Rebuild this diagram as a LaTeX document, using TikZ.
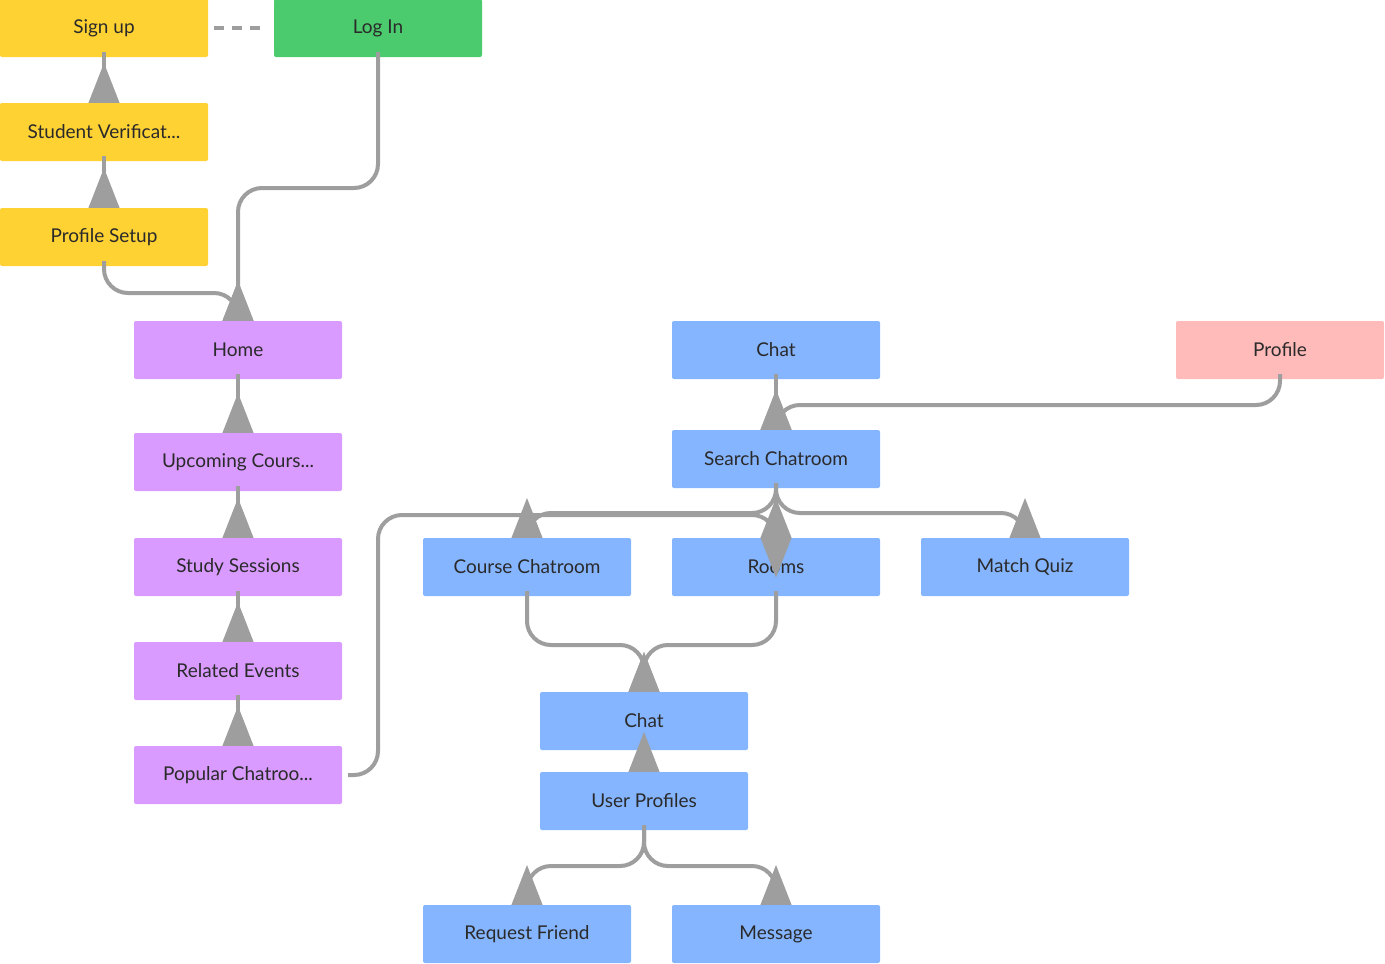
\documentclass[tikz,border=0pt]{standalone}
\usepackage{fontspec}
\setmainfont{Lato}
\usetikzlibrary{arrows.meta}
\usetikzlibrary{positioning}
\definecolor{cyellow}{HTML}{FFD233}
\definecolor{cgreen}{HTML}{4CCB6E}
\definecolor{cpurple}{HTML}{D99BFF}
\definecolor{cblue}{HTML}{85B5FF}
\definecolor{cpink}{HTML}{FFBABA}
\definecolor{cline}{HTML}{9E9E9E}
\definecolor{ctext}{HTML}{2A2A2A}
\begin{document}
\begin{tikzpicture}[x=1pt, y=-1pt, font=\fontsize{19}{22}\selectfont, text=ctext]
		\tikzstyle{block}=[rectangle, rounded corners=2pt, minimum width=208pt, minimum height=58pt, inner sep=0pt]
		\tikzstyle{link}=[draw=cline, line width=4pt, rounded corners=24pt, -{Triangle[width=30pt,length=40pt,reversed,fill=cline]}]
		\useasboundingbox (0,0) rectangle (1385,964);
		
		\node[block, fill=cyellow] (signup) at (104,28) {Sign up};
		\node[block, fill=cgreen] (login) at (378,28) {Log In};
		\node[block, fill=cyellow] (verify) at (104,132) {Student Verificat...};
		\node[block, fill=cyellow] (setup) at (104,237) {Profile Setup};
		
		\node[block, fill=cpurple] (home) at (238,350) {Home};
		\node[block, fill=cpurple] (upcoming) at (238,462) {Upcoming Cours...};
		\node[block, fill=cpurple] (sessions) at (238,567) {Study Sessions};
		\node[block, fill=cpurple] (events) at (238,671) {Related Events};
		\node[block, fill=cpurple] (popular) at (238,775) {Popular Chatroo...};
		
		\node[block, fill=cblue] (chattop) at (776,350) {Chat};
		\node[block, fill=cpink] (profile) at (1280,350) {Profile};
		\node[block, fill=cblue] (search) at (776,459) {Search Chatroom};
		\node[block, fill=cblue] (course) at (527,567) {Course Chatroom};
		\node[block, fill=cblue] (rooms) at (776,567) {Rooms};
		\node[block, fill=cblue] (quiz) at (1025,567) {Match Quiz};
		\node[block, fill=cblue] (chat) at (644,721) {Chat};
		\node[block, fill=cblue] (users) at (644,801) {User Profiles};
		\node[block, fill=cblue] (request) at (527,934) {Request Friend};
		\node[block, fill=cblue] (message) at (776,934) {Message};
		
		\draw[draw=cline, line width=4pt, dashed, dash pattern=on 10pt off 8pt] ([xshift=6pt]signup.east) -- ([xshift=-6pt]login.west);
		
		\path[link] ([yshift=5pt]signup.south) -- (verify.north);
		\path[link] ([yshift=5pt]verify.south) -- (setup.north);
		\path[link] ([yshift=5pt]setup.south) -- (104,293) -- (238,293) -- (home.north);
		\path[link] ([yshift=5pt]login.south) -- (378,188) -- (238,188) -- (home.north);
		
		\path[link] ([yshift=5pt]home.south) -- (upcoming.north);
		\path[link] ([yshift=5pt]upcoming.south) -- (sessions.north);
		\path[link] ([yshift=5pt]sessions.south) -- (events.north);
		\path[link] ([yshift=5pt]events.south) -- (popular.north);
		\path[link] ([xshift=6pt]popular.east) -- (378,775) -- (378,515) -- (776,515) -- (rooms.north);
		
		\path[link] ([yshift=5pt]chattop.south) -- (search.north);
		\path[link] ([yshift=5pt]profile.south) -- (1280,405) -- (776,405) -- (search.north);
		\path[link] ([yshift=5pt]search.south) -- (776,513) -- (527,513) -- (course.north);
		\path[link] ([yshift=5pt]search.south) -- (rooms.north);
		\path[link] ([yshift=5pt]search.south) -- (776,513) -- (1025,513) -- (quiz.north);
		
		\path[link] ([yshift=5pt]course.south) -- (527,645) -- (644,645) -- (chat.north);
		\path[link] ([yshift=5pt]rooms.south) -- (776,645) -- (644,645) -- (chat.north);
		\path[link] (chat.south) -- (users.north);
		\path[link] ([yshift=5pt]users.south) -- (644,866) -- (527,866) -- (request.north);
		\path[link] ([yshift=5pt]users.south) -- (644,866) -- (776,866) -- (message.north);
		\end{tikzpicture}
\end{document}
